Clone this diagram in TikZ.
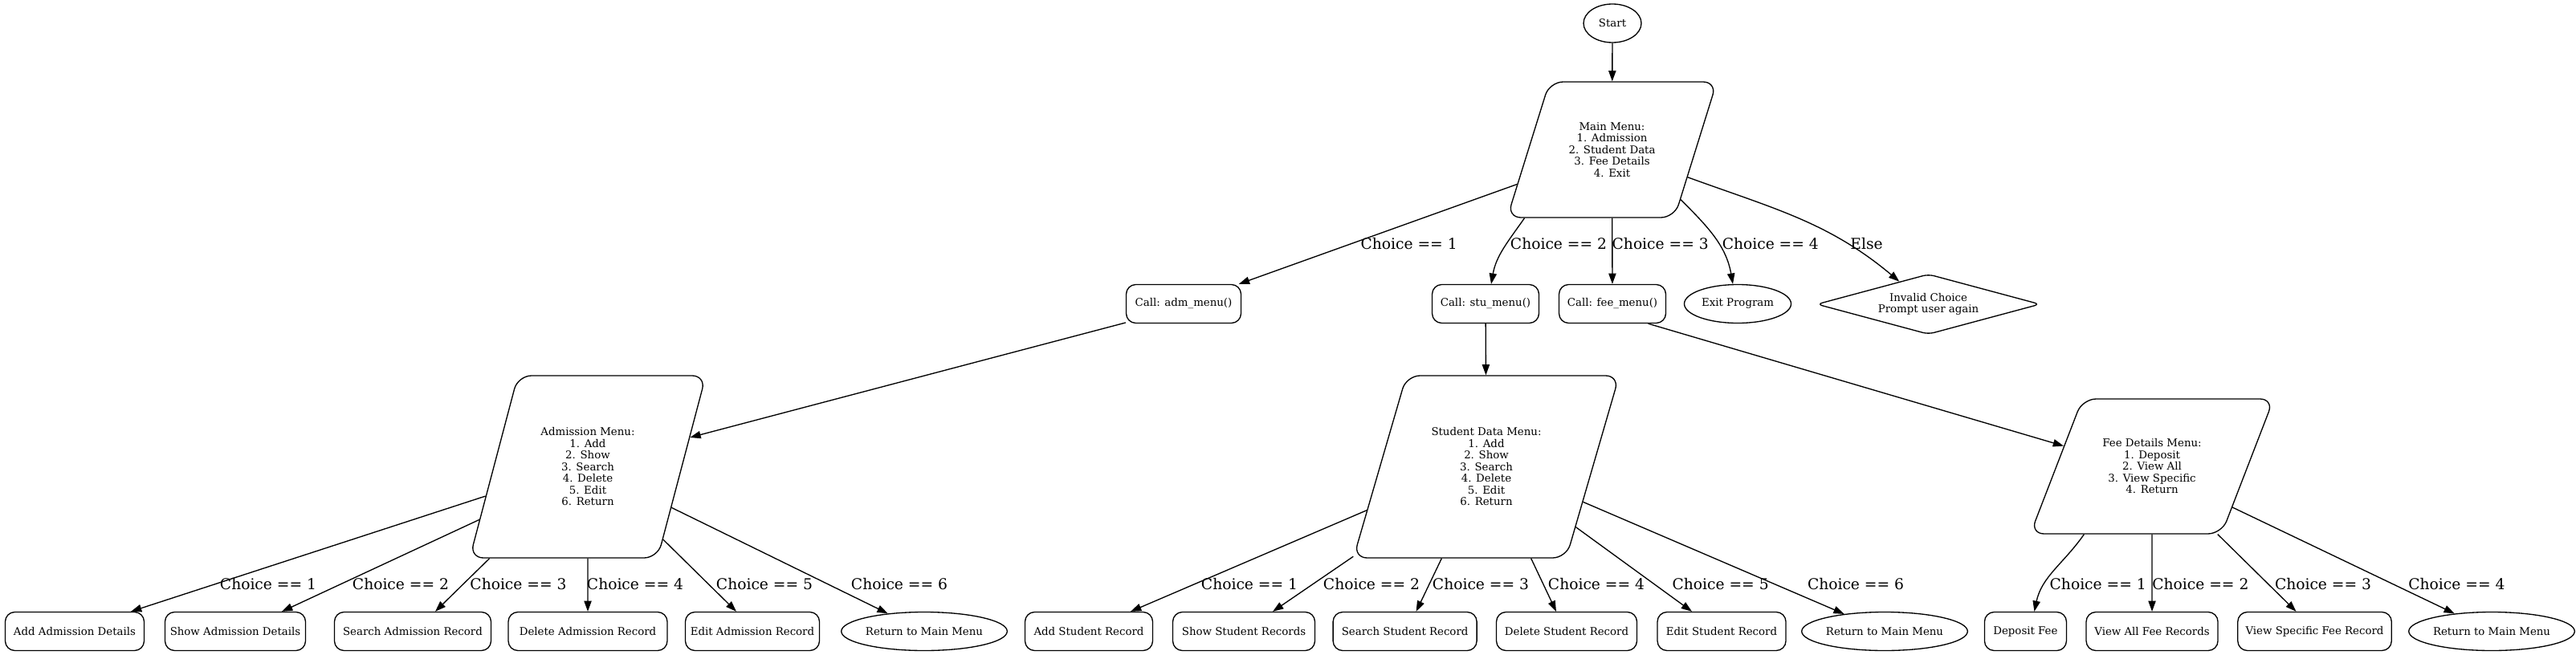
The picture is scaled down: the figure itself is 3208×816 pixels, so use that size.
\documentclass[tikz,border=0pt]{standalone}
\usepackage{fontspec}
\setmainfont{DejaVu Serif}
\usetikzlibrary{shapes.geometric,arrows.meta,calc}
\newcommand\paratext[3]{\parbox[c][#1][c]{#2}{\centering\fontsize{13.33}{14.5}\selectfont #3}}
\begin{document}
\begin{tikzpicture}[x=1pt,y=1pt,line width=1.33pt,
  every node/.style={font=\fontsize{13.33}{14.5}\selectfont},
  box/.style={draw, rounded corners=12pt, minimum height=48pt, inner xsep=2pt, inner ysep=0pt, fill=white},
  oval/.style={draw, ellipse, minimum height=48pt, inner sep=0pt, fill=white},
  para/.style={draw, trapezium, trapezium stretches body, rounded corners=17pt, inner sep=0pt, fill=white},
  dia/.style={draw, diamond, shape aspect=3.7, rounded corners=7pt, minimum width=278pt, minimum height=75pt, inner sep=0pt, align=center, fill=white},
  arr/.style={-{Triangle[length=13.3pt,width=9.3pt]}},
  lbl/.style={font=\fontsize{18.67}{20}\selectfont, inner sep=0pt},
]
\fill[white] (0,0) rectangle (3208,-816);
\useasboundingbox (0,0) rectangle (3208,-816);

% top
\node[oval, minimum width=72pt] (st) at (2008,-29) {Start};
\node[para, trapezium left angle=72.7, trapezium right angle=107.3, minimum width=261pt] (mm) at (2007.5,-186.5) {\paratext{169pt}{112pt}{Main Menu:\\1. Admission\\2. Student Data\\3. Fee Details\\4. Exit}};

% row 1
\node[box, minimum width=143pt] (adc) at (1474,-378.5) {Call: adm\_menu()};
\node[box, minimum width=133pt] (sc) at (1850,-378.5) {Call: stu\_menu()};
\node[box, minimum width=133pt] (fc) at (2008,-378.5) {Call: fee\_menu()};
\node[oval, minimum width=133pt] (ex) at (2164,-378.5) {Exit Program};
\node[dia] (inv) at (2401.5,-379) {Invalid Choice\\Prompt user again};

% row 2
\node[para, trapezium left angle=75.2, trapezium right angle=104.8, minimum width=294pt] (adm) at (732,-581.5) {\paratext{227pt}{125pt}{Admission Menu:\\1. Add\\2. Show\\3. Search\\4. Delete\\5. Edit\\6. Return}};
\node[para, trapezium left angle=73.8, trapezium right angle=106.2, minimum width=331pt] (sdm) at (1851,-581.5) {\paratext{227pt}{145pt}{Student Data Menu:\\1. Add\\2. Show\\3. Search\\4. Delete\\5. Edit\\6. Return}};
\node[para, trapezium left angle=68.9, trapezium right angle=111.1, minimum width=303pt] (fdm) at (2680,-581) {\paratext{168pt}{130pt}{Fee Details Menu:\\1. Deposit\\2. View All\\3. View Specific\\4. Return}};

% leaves
\node[box, minimum width=173pt] (aadd) at (93,-786.5) {Add Admission Details};
\node[box, minimum width=175pt] (ashow) at (293,-786.5) {Show Admission Details};
\node[box, minimum width=195pt] (asearch) at (514,-786.5) {Search Admission Record};
\node[box, minimum width=198pt] (adel) at (732,-786.5) {Delete Admission Record};
\node[box, minimum width=167pt] (aedit) at (937,-786.5) {Edit Admission Record};
\node[oval, minimum width=196pt] (aret) at (1151,-786.5) {Return to Main Menu};

\node[box, minimum width=159pt] (sadd) at (1356,-786.5) {Add Student Record};
\node[box, minimum width=177pt] (sshow) at (1549,-786.5) {Show Student Records};
\node[box, minimum width=179pt] (ssearch) at (1749.6,-786.5) {Search Student Record};
\node[box, minimum width=175pt] (sdel) at (1951,-786.5) {Delete Student Record};
\node[box, minimum width=160pt] (sedit) at (2144,-786.5) {Edit Student Record};
\node[oval, minimum width=196pt] (sret) at (2347,-786.5) {Return to Main Menu};

\node[box, minimum width=102pt] (fdep) at (2522.4,-786.5) {Deposit Fee};
\node[box, minimum width=164pt] (fall) at (2680,-786.5) {View All Fee Records};
\node[box, minimum width=191.5pt] (fspec) at (2882.5,-786.5) {View Specific Fee Record};
\node[oval, minimum width=198pt] (fret) at (3103,-786.5) {Return to Main Menu};

% edges top
\draw[arr] (st) -- (mm);
\draw[arr] (mm.200) -- (adc);
\draw[arr] (mm.218) to[out=-125,in=80] ([xshift=7pt]sc.north);
\draw[arr] (mm) -- (fc);
\draw[arr] (mm.324) to[out=-45,in=100] ([xshift=-6pt]ex.north);
\draw[arr] (mm.340) to[out=-20,in=140] (inv.142);

\draw[arr] (adc.198) -- (adm.16);
\draw[arr] (sc) -- (sdm);
\draw[arr] (fc.331) -- (fdm.167);

% admission edges
\draw[arr] (adm.196) -- ([xshift=70pt]aadd.north);
\draw[arr] (adm.206) -- ([xshift=58pt]ashow.north);
\draw[arr] (adm.223) -- ([xshift=28pt]asearch.north);
\draw[arr] (adm) -- (adel);
\draw[arr] (adm.316) -- ([xshift=-20pt]aedit.north);
\draw[arr] (adm.334) -- (aret);

% student edges
\draw[arr] (sdm.200) -- ([xshift=52pt]sadd.north);
\draw[arr] (sdm.214) -- ([xshift=36pt]sshow.north);
\draw[arr] (sdm.244) -- ([xshift=14pt]ssearch.north);
\draw[arr] (sdm.296) -- ([xshift=-13pt]sdel.north);
\draw[arr] (sdm.326) -- ([xshift=-37pt]sedit.north);
\draw[arr] (sdm.340) -- (sret);

% fee edges
\draw[arr] (fdm.225) to[out=-125,in=78] ([xshift=11pt]fdep.north);
\draw[arr] (fdm) -- (fall);
\draw[arr] (fdm.314) -- ([xshift=-23pt]fspec.north);
\draw[arr] (fdm.333) -- (fret);

% labels
\node[lbl] (l1) at (1754.6,-303.5) {Choice == 1};
\node[lbl] (l2) at (1941,-303.5) {Choice == 2};
\node[lbl] (l3) at (2067.7,-303.5) {Choice == 3};
\node[lbl] (l4) at (2204.8,-303.5) {Choice == 4};
\node[lbl] (l5) at (2324.5,-303.5) {Else};

\node[lbl] (a1) at (334,-728) {Choice == 1};
\node[lbl] (a2) at (499,-728) {Choice == 2};
\node[lbl] (a3) at (645.5,-728) {Choice == 3};
\node[lbl] (a4) at (791,-728) {Choice == 4};
\node[lbl] (a5) at (952,-728) {Choice == 5};
\node[lbl] (a6) at (1120,-728) {Choice == 6};

\node[lbl] (s1) at (1556,-728) {Choice == 1};
\node[lbl] (s2) at (1708,-728) {Choice == 2};
\node[lbl] (s3) at (1844,-728) {Choice == 3};
\node[lbl] (s4) at (1988,-728) {Choice == 4};
\node[lbl] (s5) at (2142.6,-728) {Choice == 5};
\node[lbl] (s6) at (2311,-728) {Choice == 6};

\node[lbl] (f1) at (2612.7,-728) {Choice == 1};
\node[lbl] (f2) at (2740.4,-728) {Choice == 2};
\node[lbl] (f3) at (2893,-728) {Choice == 3};
\node[lbl] (f4) at (3059.4,-728) {Choice == 4};
\end{tikzpicture}
\end{document}
